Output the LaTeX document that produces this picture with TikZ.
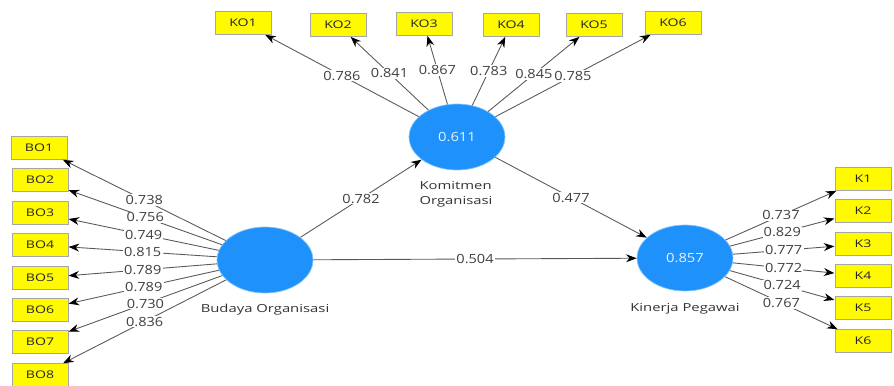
\documentclass[tikz,border=0pt]{standalone}
\usepackage{fontspec}
\setmainfont{Open Sans}
\usepackage{tikz}
\usetikzlibrary{arrows.meta,shapes.geometric}
\definecolor{plsblue}{RGB}{30,146,250}
\definecolor{plsyellow}{RGB}{255,250,0}

\begin{document}
\begin{tikzpicture}[x=0.02cm,y=-0.02cm,
	lv/.style={ellipse,fill=plsblue,draw=plsblue!55,inner sep=0pt,minimum width=1.64cm,minimum height=1.32cm,xscale=1.17,text=plsblue!12,font=\fontsize{7.2}{8}\selectfont},
	mv/.style={rectangle,fill=plsyellow,draw=black!35,minimum width=0.84cm,minimum height=0.46cm,inner sep=0pt,xscale=1.34,text=black!85,font=\fontsize{6}{7}\selectfont},
	lvname/.style={xscale=1.34,text=black!80,font=\fontsize{6.3}{8.5}\selectfont},
	wt/.style={fill=white,inner sep=0.6pt,xscale=1.15,text=black!75,font=\fontsize{7.2}{8}\selectfont},
	link/.style={draw=black!65,line width=0.5pt,-{Stealth[length=6pt,width=4.5pt,black]}}]
	\useasboundingbox (0,0) rectangle (894,386);

	% latent variables
	\node[lv] (bo) at (265,260) {};
	\node[lv] (ko) at (457,137) {0.611};
	\node[lv] (kp) at (685,258) {0.857};
	\node[lvname] (bon) at (265,310) {Budaya Organisasi};
	\node[lvname,align=left] (kon) at (456,194) {Komitmen\\Organisasi};
	\node[lvname] (kpn) at (685,309) {Kinerja Pegawai};

	% indicators of Budaya Organisasi
	\node[mv] (bo1) at (39,148) {BO1};
	\node[mv] (bo2) at (40,180) {BO2};
	\node[mv] (bo3) at (40,213) {BO3};
	\node[mv] (bo4) at (40,245) {BO4};
	\node[mv] (bo5) at (40,278) {BO5};
	\node[mv] (bo6) at (40,310) {BO6};
	\node[mv] (bo7) at (40,342) {BO7};
	\node[mv] (bo8) at (40,375) {BO8};

	% indicators of Komitmen Organisasi
	\node[mv] (ko1) at (243,23) {KO1};
	\node[mv] (ko2) at (338,25) {KO2};
	\node[mv] (ko3) at (424,24) {KO3};
	\node[mv] (ko4) at (511,25) {KO4};
	\node[mv] (ko5) at (594,25) {KO5};
	\node[mv] (ko6) at (673,23) {KO6};

	% indicators of Kinerja Pegawai
	\node[mv] (k1) at (863,179) {K1};
	\node[mv] (k2) at (863,211) {K2};
	\node[mv] (k3) at (863,244) {K3};
	\node[mv] (k4) at (863,276) {K4};
	\node[mv] (k5) at (863,308) {K5};
	\node[mv] (k6) at (863,341) {K6};

	% outer loadings
	\draw[link] (bo) -- node[wt] {0.738} (bo1);
	\draw[link] (bo) -- node[wt] {0.756} (bo2);
	\draw[link] (bo) -- node[wt] {0.749} (bo3);
	\draw[link] (bo) -- node[wt] {0.815} (bo4);
	\draw[link] (bo) -- node[wt] {0.789} (bo5);
	\draw[link] (bo) -- node[wt] {0.789} (bo6);
	\draw[link] (bo) -- node[wt] {0.730} (bo7);
	\draw[link] (bo) -- node[wt] {0.836} (bo8);

	\draw[link] (ko) -- node[wt] {0.786} (ko1);
	\draw[link] (ko) -- node[wt] {0.841} (ko2);
	\draw[link] (ko) -- node[wt] {0.867} (ko3);
	\draw[link] (ko) -- node[wt] {0.783} (ko4);
	\draw[link] (ko) -- node[wt] {0.845} (ko5);
	\draw[link] (ko) -- node[wt] {0.785} (ko6);

	\draw[link] (kp) -- node[wt] {0.737} (k1);
	\draw[link] (kp) -- node[wt] {0.829} (k2);
	\draw[link] (kp) -- node[wt] {0.777} (k3);
	\draw[link] (kp) -- node[wt] {0.772} (k4);
	\draw[link] (kp) -- node[wt] {0.724} (k5);
	\draw[link] (kp) -- node[wt] {0.767} (k6);

	% path coefficients
	\draw[link] (bo) -- node[wt] {0.782} (ko);
	\draw[link] (ko) -- node[wt] {0.477} (kp);
	\draw[link] (bo) -- node[wt] {0.504} (kp);
\end{tikzpicture}
\end{document}
